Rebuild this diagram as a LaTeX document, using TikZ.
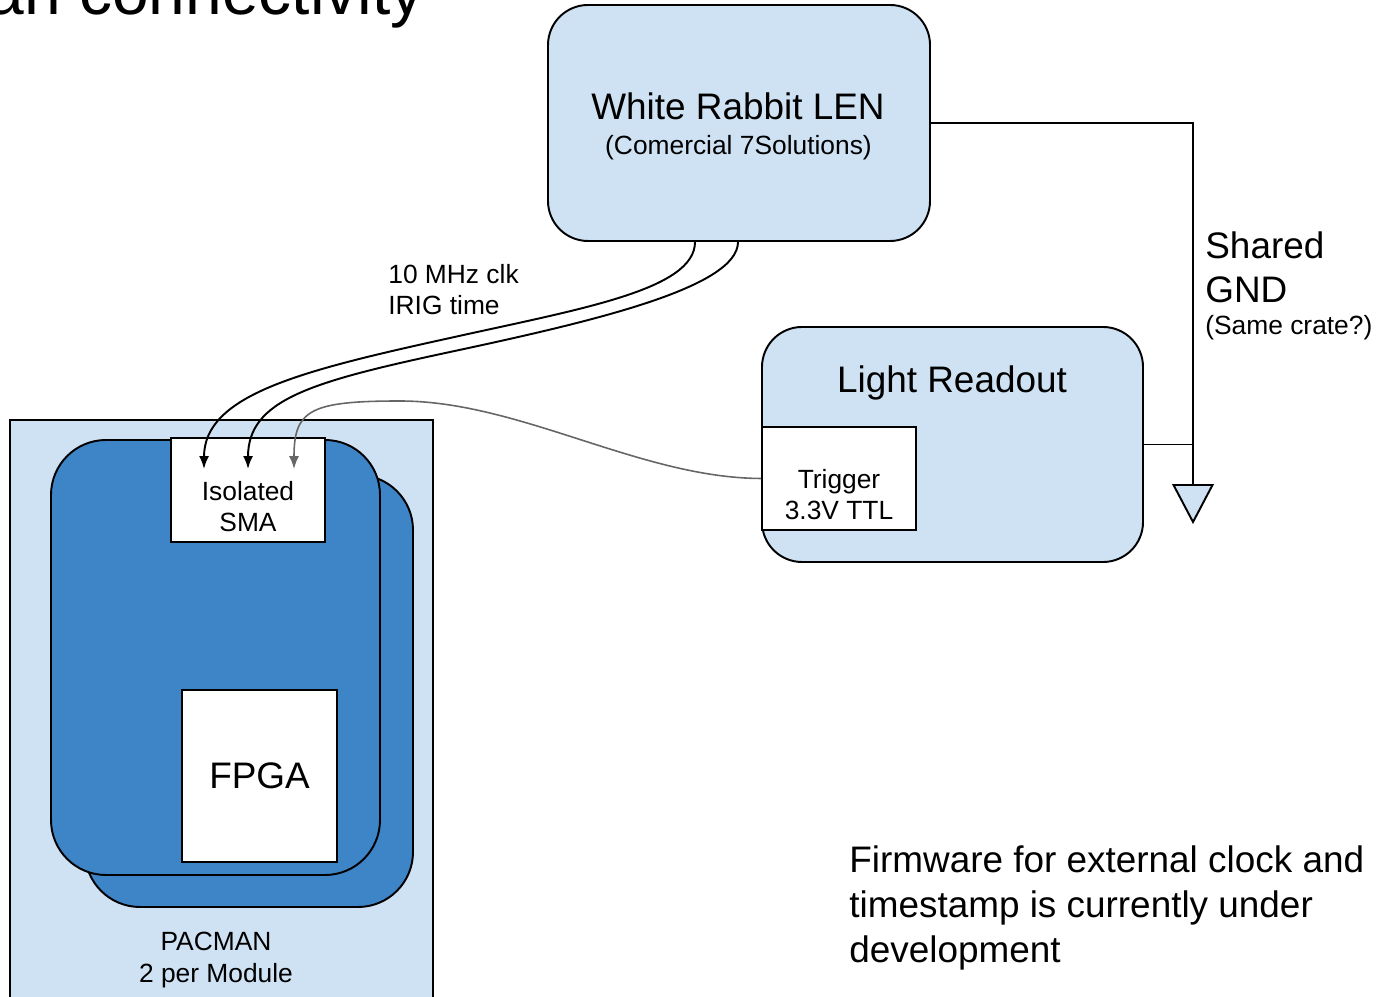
\documentclass[tikz,border=0pt]{standalone}
\usepackage{fontspec}
\setmainfont{Liberation Sans}
\usepackage{xcolor}
\usepackage{tikz}
\usetikzlibrary{arrows.meta, positioning, calc}
\definecolor{celeste}{HTML}{CFE2F3}
\definecolor{azul}{HTML}{3D85C6}
\definecolor{gris}{HTML}{666666}
\newcommand{\grande}{\fontsize{21}{25.6}\selectfont}
\newcommand{\chico}{\fontsize{15}{18.2}\selectfont}
\tikzset{
  fondo/.style={draw=black, fill=celeste, line width=1.1pt, inner sep=0pt},
  caja/.style={draw=black, fill=celeste, line width=1.1pt, rounded corners=0.8cm, inner sep=0pt},
  placa/.style={draw=black, fill=azul, line width=1.1pt, rounded corners=1.1cm, inner sep=0pt},
  blanca/.style={draw=black, fill=white, line width=1.1pt, inner sep=0pt},
  etiq/.style={inner sep=0pt, align=center},
  flecha/.style={-{Latex[length=2.6mm,width=2mm]}, line width=1.1pt},
  cable/.style={-{Latex[length=2.6mm,width=2mm]}, line width=0.9pt, gris},
  tierra/.style={line width=1.1pt},
}
\begin{document}
\begin{tikzpicture}
  \useasboundingbox (0,0) rectangle (27.58,19.92);
  \node[anchor=base west, inner sep=0pt, font=\fontsize{37.5}{40}\selectfont] (titulo) at (-0.25,19.62) {an connectivity};

  % PACMAN
  \node[fondo, minimum width=8.46cm, minimum height=11.72cm] (pacman) at (4.43,5.66) {};
  \node[placa, minimum width=6.56cm, minimum height=8.64cm] (placab) at (4.98,6.10) {};
  \node[placa, minimum width=6.58cm, minimum height=8.70cm] (placaa) at (4.31,6.77) {};
  \node[blanca, minimum width=3.08cm, minimum height=2.08cm] (sma) at (4.96,10.12) {};
  \node[etiq, font=\chico, anchor=base] (smatxt) at (4.96,9.28) {Isolated\\SMA};
  \node[blanca, minimum width=3.10cm, minimum height=3.44cm, font=\grande] (fpga) at (5.19,4.40) {FPGA};
  \node[etiq, font=\chico, anchor=base] (pactxt) at (4.32,0.28) {PACMAN\\2 per Module};

  % White Rabbit
  \node[caja, minimum width=7.64cm, minimum height=4.72cm] (wr) at (14.78,17.46) {};
  \node[etiq, font=\grande, anchor=base] (wrtxt) at (14.76,17.52) {White Rabbit LEN};
  \node[etiq, font=\chico, anchor=base] (wrsub) at (14.77,16.82) {(Comercial 7Solutions)};

  % Light readout
  \node[caja, minimum width=7.62cm, minimum height=4.70cm] (lr) at (19.05,11.03) {};
  \node[etiq, font=\grande, anchor=base] (lrtxt) at (19.04,12.06) {Light Readout};
  \node[blanca, minimum width=3.08cm, minimum height=2.06cm] (trig) at (16.78,10.35) {};
  \node[etiq, font=\chico, anchor=base] (trigtxt) at (16.78,9.52) {Trigger\\3.3V TTL};

  % tierra
  \coordinate (gnd) at (23.86,10.22);
  \draw[tierra] (wr.east) -| (gnd);
  \draw[tierra] (lr.east) -- (lr.east -| gnd);
  \draw[tierra, fill=celeste] ($(gnd)+(-0.39,0)$) -- ($(gnd)+(0.39,0)$) -- ($(gnd)+(0,-0.74)$) -- cycle;
  \node[etiq, font=\grande, anchor=base west, align=left] (gndtxt) at (24.10,13.86) {Shared\\GND};
  \node[etiq, font=\chico, anchor=base west] (gndsub) at (24.10,13.22) {(Same crate?)};

  \node[etiq, font=\chico, anchor=base west, align=left] (clktxt) at (7.76,13.62) {10 MHz clk\\IRIG time};
  \node[etiq, font=\grande, anchor=base west, align=left] (nota) at (16.98,0.68) {Firmware for external clock and\\timestamp is currently under\\development};

  % cables
  \coordinate (s1) at ($(wr.south)+(-0.88,0)$);
  \coordinate (s2) at ($(wr.south)+(-0.02,0)$);
  \coordinate (e1) at ($(sma.north)+(-0.88,-0.64)$);
  \coordinate (e2) at ($(sma.north)+(0,-0.64)$);
  \coordinate (e3) at ($(sma.north)+(0.92,-0.64)$);
  \draw[flecha] (s1) .. controls (13.90,14.12) and (11.60,13.74) .. (9.00,13.16)
                     .. controls (6.00,12.50) and (4.08,12.02) .. (e1);
  \draw[flecha] (s2) .. controls (14.76,14.16) and (11.80,13.48) .. (9.00,12.88)
                     .. controls (6.20,12.28) and (4.96,11.92) .. (e2);
  \draw[cable] (trig.west) .. controls (12.80,10.36) and (10.40,11.90) .. (8.00,11.90)
                     .. controls (6.20,11.90) and (5.88,11.72) .. (e3);
\end{tikzpicture}
\end{document}
